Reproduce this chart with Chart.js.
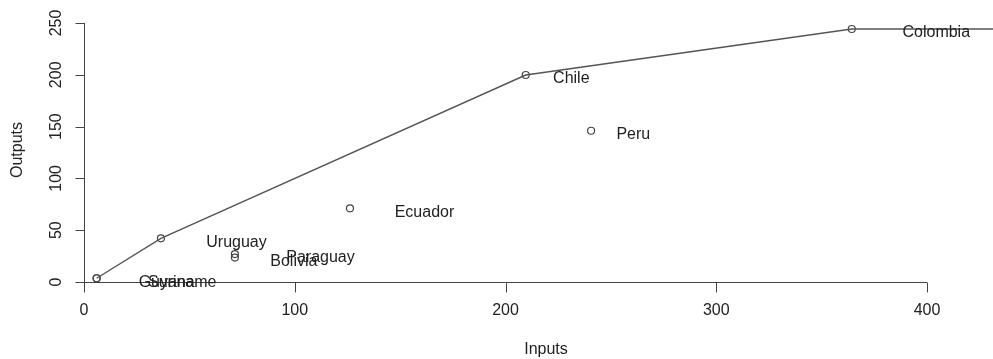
<!DOCTYPE html>
<html>
<head>
<meta charset="utf-8">
<script src="https://cdn.jsdelivr.net/npm/chart.js@4.4.1/dist/chart.umd.min.js"></script>
<style>
  body { margin: 0; background: #fff; }
  #c { display: block; }
</style>
</head>
<body>
<canvas id="c" width="993" height="359"></canvas>
<script>
// countries and their input / output values
var countries = ["Bolivia", "Chile", "Colombia", "Ecuador", "Guyana", "Paraguay", "Peru", "Suriname", "Uruguay"];
var inputs  = [71.6, 209.6, 364.3, 126.2, 6.0, 71.6, 240.6, 6.0, 36.5];
var outputs = [23.6, 199.8, 244.2, 71.1, 3.6, 27.0, 146.0, 3.6, 42.2];

// frontier through the efficient units, flat after the last one
var frontierX = [6.0, 36.5, 209.6, 364.3, 440];
var frontierY = [3.6, 42.2, 199.8, 244.2, 244.2];

var xTicks = [0, 100, 200, 300, 400];
var yTicks = [0, 50, 100, 150, 200, 250];

var fontName = "'Liberation Sans', Arial, sans-serif";
var textCol = "#222";
var lineCol = "#444";

function toPoints(xs, ys)
{
  return xs.map(function(x, i) { return { x: x, y: ys[i] }; });
}

// R like axes, labels next to points (adj = c(-.75, .75))
var rAxes = {
  id: "rAxes",
  afterDraw: function(chart)
  {
    var ctx = chart.ctx;
    var sx = chart.scales.x;
    var sy = chart.scales.y;
    ctx.save();
    ctx.strokeStyle = lineCol;
    ctx.lineWidth = 1;
    ctx.fillStyle = textCol;
    ctx.font = "16px " + fontName;

    // x axis
    var y0 = Math.round(sy.getPixelForValue(0)) + 0.5;
    ctx.beginPath();
    ctx.moveTo(sx.getPixelForValue(xTicks[0]), y0);
    ctx.lineTo(sx.getPixelForValue(xTicks[xTicks.length - 1]), y0);
    for (var i = 0; i < xTicks.length; i++)
    {
      var px = Math.round(sx.getPixelForValue(xTicks[i])) + 0.5;
      ctx.moveTo(px, y0);
      ctx.lineTo(px, y0 + 10);
    }
    ctx.stroke();
    ctx.textAlign = "center";
    ctx.textBaseline = "middle";
    for (i = 0; i < xTicks.length; i++)
    {
      ctx.fillText(String(xTicks[i]), sx.getPixelForValue(xTicks[i]), 311);
    }

    // y axis
    var x0 = Math.round(sx.getPixelForValue(0)) + 0.5;
    ctx.beginPath();
    ctx.moveTo(x0, sy.getPixelForValue(yTicks[0]));
    ctx.lineTo(x0, sy.getPixelForValue(yTicks[yTicks.length - 1]));
    for (i = 0; i < yTicks.length; i++)
    {
      var py = Math.round(sy.getPixelForValue(yTicks[i])) + 0.5;
      ctx.moveTo(x0, py);
      ctx.lineTo(x0 - 9, py);
    }
    ctx.stroke();
    for (i = 0; i < yTicks.length; i++)
    {
      ctx.save();
      ctx.translate(57, sy.getPixelForValue(yTicks[i]));
      ctx.rotate(-Math.PI / 2);
      ctx.fillText(String(yTicks[i]), 0, 0);
      ctx.restore();
    }

    // titles
    ctx.fillText("Inputs", 546, 350);
    ctx.save();
    ctx.translate(18, 150);
    ctx.rotate(-Math.PI / 2);
    ctx.fillText("Outputs", 0, 0);
    ctx.restore();

    // country labels
    ctx.textAlign = "left";
    for (i = 0; i < countries.length; i++)
    {
      var w = ctx.measureText(countries[i]).width;
      var lx = sx.getPixelForValue(inputs[i]) + 0.75 * w;
      var ly = sy.getPixelForValue(outputs[i]) + 4;
      ctx.fillText(countries[i], lx, ly);
    }
    ctx.restore();
  }
};

var chart = new Chart(document.getElementById("c"), {
  type: "scatter",
  data: {
    datasets: [
      {
        label: "Frontier",
        data: toPoints(frontierX, frontierY),
        showLine: true,
        borderColor: "#555",
        borderWidth: 1.4,
        pointRadius: 0,
        fill: false,
        clip: false
      },
      {
        label: "Countries",
        data: toPoints(inputs, outputs),
        pointStyle: "circle",
        pointRadius: 3.5,
        pointBorderWidth: 1.2,
        borderColor: "#444",
        backgroundColor: "rgba(0,0,0,0)",
        clip: false
      }
    ]
  },
  options: {
    responsive: false,
    devicePixelRatio: 1,
    animation: false,
    layout: { autoPadding: false, padding: { left: 84, right: 0, top: 23, bottom: 77 } },
    plugins: {
      legend: { display: false },
      tooltip: { enabled: false }
    },
    scales: {
      x: { type: "linear", min: 0, max: 431.3, display: false },
      y: { type: "linear", min: 0, max: 250, display: false }
    }
  },
  plugins: [rAxes]
});
</script>
</body>
</html>
